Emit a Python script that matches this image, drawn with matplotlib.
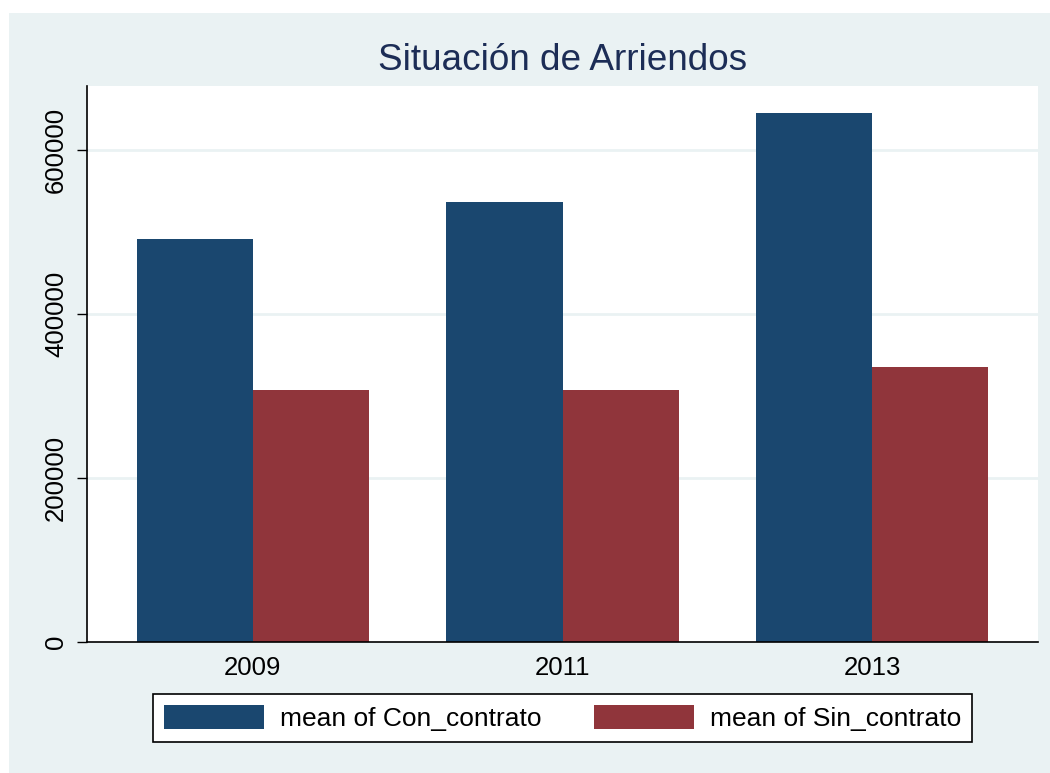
import matplotlib.pyplot as plt
from matplotlib.patches import Rectangle
import numpy as np

plt.rcParams['font.family'] = ['Liberation Sans', 'DejaVu Sans']

# datos
years = ['2009', '2011', '2013']
con_contrato = [490600, 536100, 644300]
sin_contrato = [306500, 307000, 334500]

c_con = '#1A476F'
c_sin = '#90353B'
bg = '#EAF2F3'

fig = plt.figure(figsize=(10.5, 7.73), dpi=100, facecolor='white')
fig.add_artist(Rectangle((9 / 1050, 0), 1041 / 1050, 760 / 773,
                         transform=fig.transFigure, facecolor=bg,
                         edgecolor='none', zorder=-10))

ax = fig.add_axes([87 / 1050, 131.3 / 773, 951 / 1050, 555.3 / 773])
ax.set_facecolor('white')

x = np.arange(len(years))
w = 0.3748
ax.bar(x - w / 2, con_contrato, width=w, color=c_con, label='mean of Con_contrato', zorder=3)
ax.bar(x + w / 2, sin_contrato, width=w, color=c_sin, label='mean of Sin_contrato', zorder=3)

ax.set_xlim(-0.536, 2.536)
ax.set_ylim(0, 677200)
ax.set_yticks([0, 200000, 400000, 600000])
ax.set_yticklabels(['0', '200000', '400000', '600000'], rotation=90, va='center', fontsize=18.5)
ax.set_xticks(x)
ax.set_xticklabels(years, fontsize=18.5)
ax.tick_params(axis='x', length=0, pad=10.5)
ax.tick_params(axis='y', length=7.5, width=1, pad=6)

for v in [200000, 400000, 600000]:
    ax.axhline(v, color=bg, linewidth=2, zorder=1)

for s in ['top', 'right']:
    ax.spines[s].set_visible(False)
for s in ['left', 'bottom']:
    ax.spines[s].set_linewidth(1.2)
    ax.spines[s].set_zorder(4)

fig.text(562.5 / 1050, 1 - 60 / 773, 'Situación de Arriendos', ha='center', va='center',
         fontsize=26.6, color='#1C2D56')

leg = fig.legend(loc='center', ncol=2, bbox_to_anchor=(562.5 / 1050, 1 - 718 / 773),
                 fontsize=19, frameon=True, fancybox=False, shadow=False, framealpha=1,
                 handlelength=3.79, handleheight=1.02, handletextpad=0.6, columnspacing=2.0,
                 borderaxespad=0, borderpad=0.4)
leg.get_frame().set_edgecolor('black')
leg.get_frame().set_linewidth(1.2)

plt.savefig('out.png', dpi=100, facecolor=fig.get_facecolor())
